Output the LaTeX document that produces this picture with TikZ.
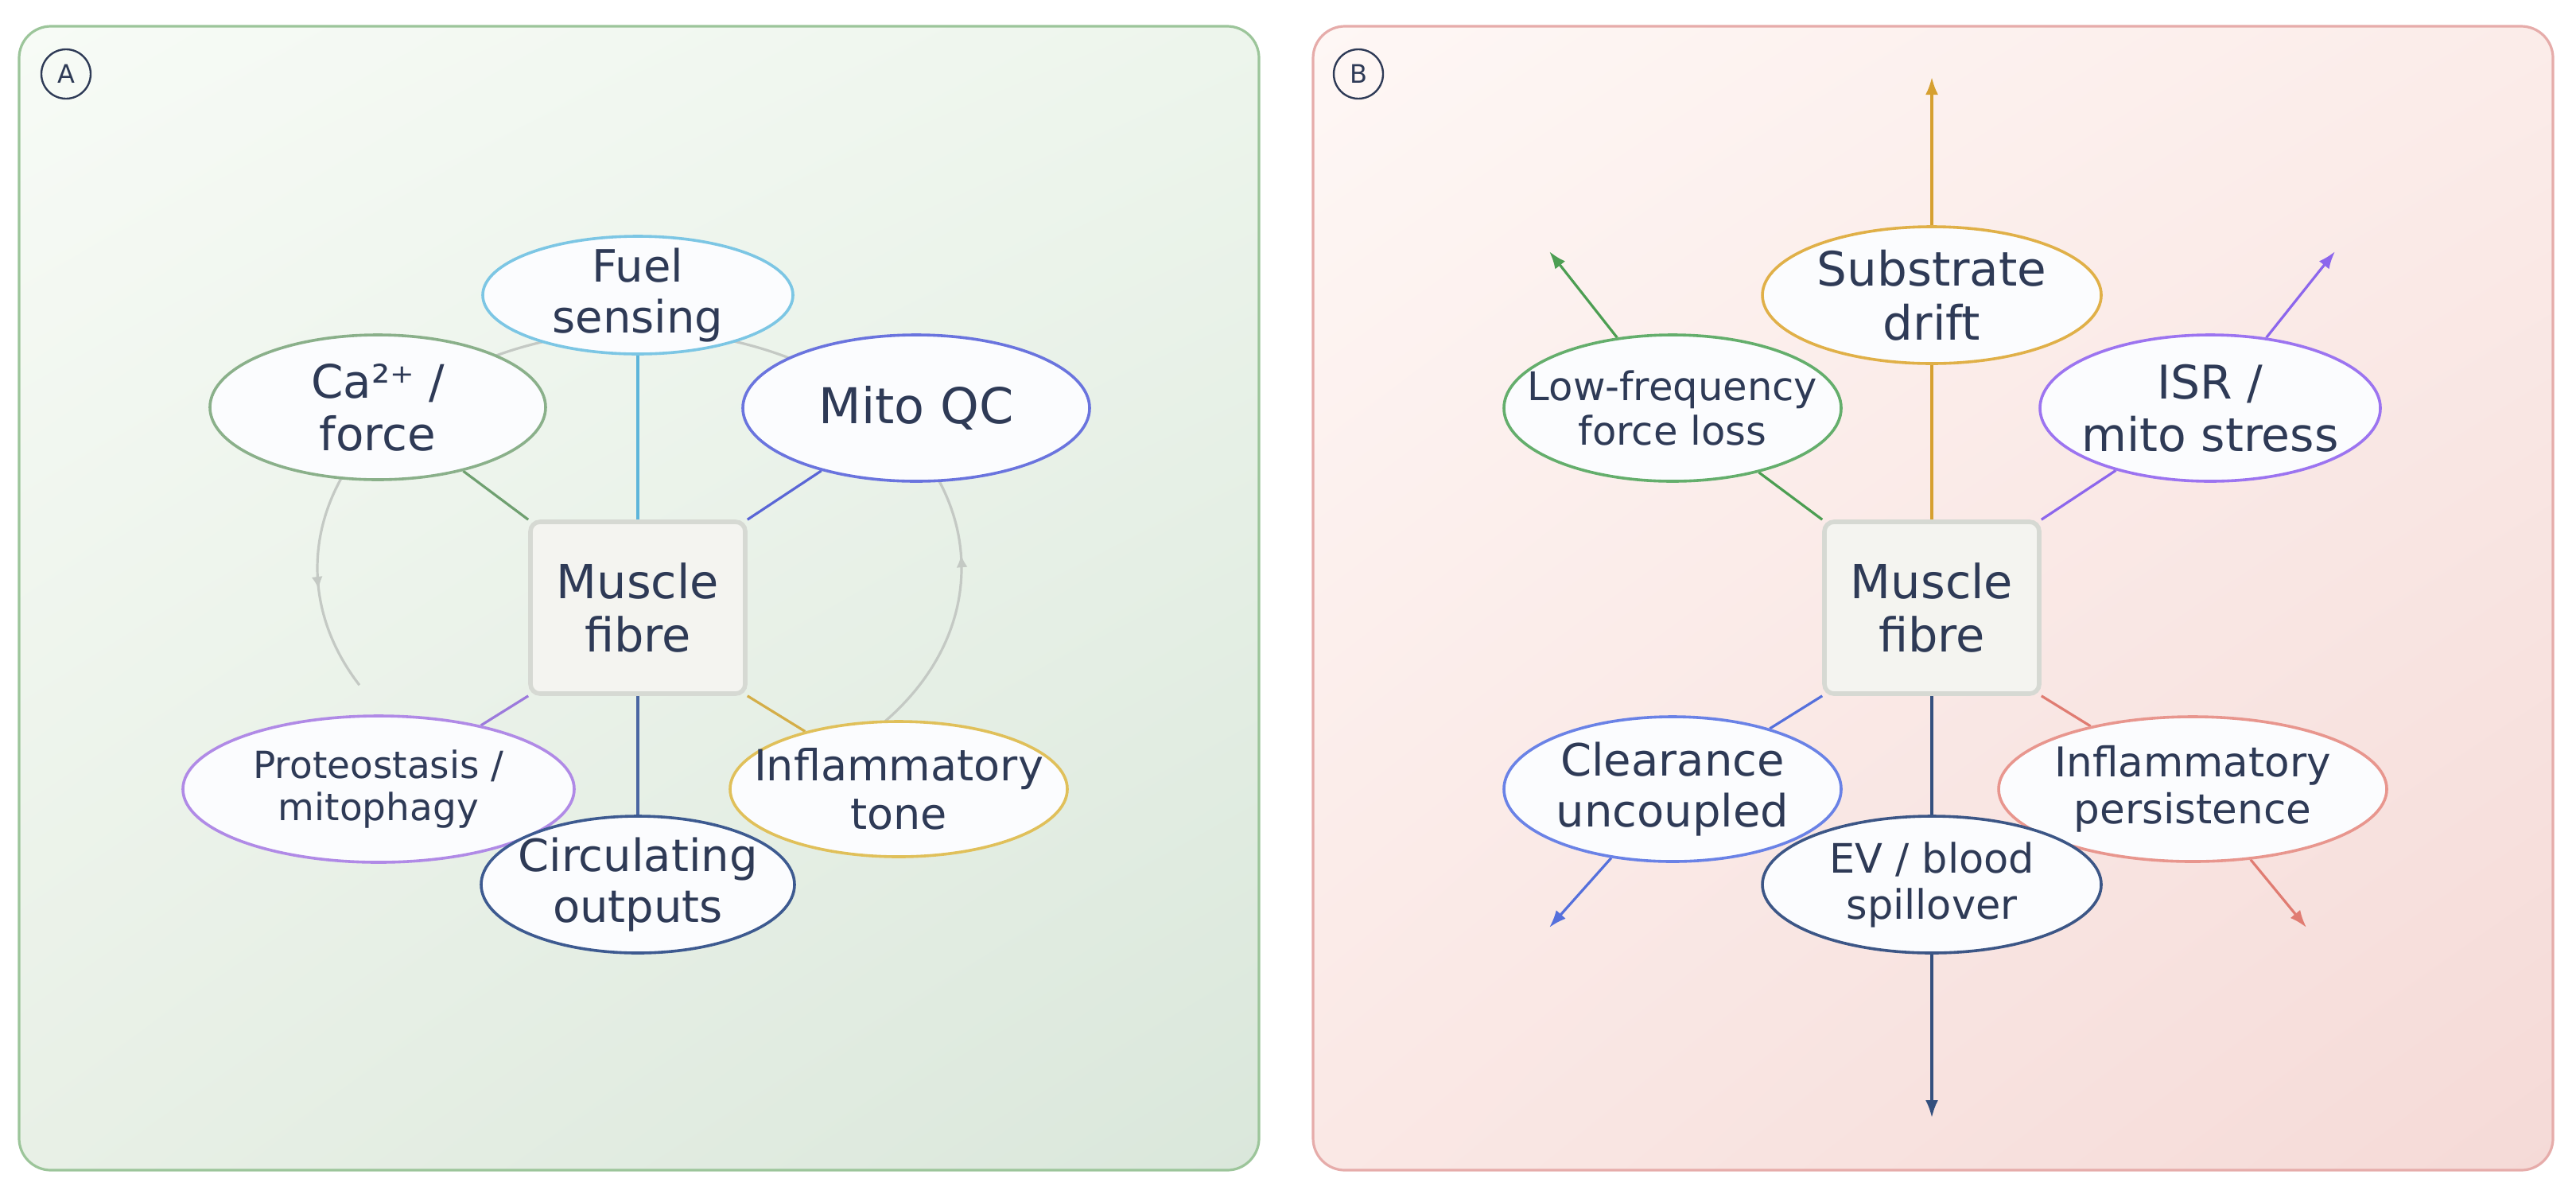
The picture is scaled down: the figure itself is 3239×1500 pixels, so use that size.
\documentclass[tikz,border=0pt]{standalone}
\usepackage{fontspec}
\setmainfont{DejaVu Sans}
\usetikzlibrary{shapes.geometric, arrows.meta, decorations.markings, calc, shadings}
\pgfdeclarelayer{bg}
\pgfdeclarelayer{lines}
\pgfsetlayers{bg,lines,main}
% text and neutral colours
\definecolor{txtc}{HTML}{2E3A56}
\definecolor{nodefill}{HTML}{FBFCFE}
\definecolor{boxfill}{HTML}{F4F4F0}
\definecolor{boxborder}{HTML}{D6D9D3}
\definecolor{ringcol}{HTML}{C4C9C4}
% panel colours
\definecolor{aTL}{HTML}{F7FBF6}
\definecolor{aTR}{HTML}{EDF5EC}
\definecolor{aBL}{HTML}{E8F0E6}
\definecolor{aBR}{HTML}{DAE7DB}
\definecolor{aBorder}{HTML}{9CC59A}
\definecolor{bTL}{HTML}{FEF7F5}
\definecolor{bTR}{HTML}{FBECE9}
\definecolor{bBL}{HTML}{FAE8E5}
\definecolor{bBR}{HTML}{F5DAD7}
\definecolor{bBorder}{HTML}{E6ACAA}
% node colours A
\definecolor{fuelc}{HTML}{7CC6E4}\definecolor{fuelL}{HTML}{5DB5DA}
\definecolor{cac}{HTML}{8AB08A}\definecolor{caL}{HTML}{6FA070}
\definecolor{mitoc}{HTML}{6A74DE}\definecolor{mitoL}{HTML}{5A66D6}
\definecolor{protc}{HTML}{B08AE6}\definecolor{protL}{HTML}{9C7ADC}
\definecolor{inflc}{HTML}{E0C05A}\definecolor{inflL}{HTML}{D4AE48}
\definecolor{circc}{HTML}{3D5A90}\definecolor{circL}{HTML}{4A66A2}
% node colours B
\definecolor{subsc}{HTML}{E0B048}\definecolor{subsL}{HTML}{D6A030}
\definecolor{lfc}{HTML}{64AE6C}\definecolor{lfL}{HTML}{4C9E52}
\definecolor{isrc}{HTML}{9C74F0}\definecolor{isrL}{HTML}{8C66EC}
\definecolor{clearc}{HTML}{6A82E6}\definecolor{clearL}{HTML}{5570DC}
\definecolor{inflBc}{HTML}{E8968E}\definecolor{inflBL}{HTML}{E07C72}
\definecolor{evc}{HTML}{3C5686}\definecolor{evL}{HTML}{34507E}
\begin{document}
\begin{tikzpicture}[x=0.25pt, y=-0.25pt,
  ell/.style={ellipse, draw, fill=nodefill, line width=0.9pt, inner sep=0pt},
  lbl/.style={align=center, text=txtc, inner sep=0pt},
  fibrebox/.style={rectangle, rounded corners=3pt, draw=boxborder, line width=1.4pt,
    fill=boxfill, align=center, text=txtc, inner sep=0pt,
    minimum width=67.5pt, minimum height=54pt,
    font=\fontsize{14.75}{16.8}\selectfont},
  panellabel/.style={circle, draw=txtc, line width=0.6pt, minimum size=15.5pt,
    inner sep=0pt, text=txtc, font=\fontsize{8}{9}\selectfont},
  conn/.style={line width=0.8pt},
  arr/.style={line width=0.8pt, -{Latex[length=5.5pt,width=4pt]}},
  ringst/.style={ringcol, line width=0.8pt}
]
\useasboundingbox (0,0) rectangle (3239,1500);

% ---------- panels ----------
\begin{pgfonlayer}{bg}
  \fill[white] (0,0) rectangle (3239,1500);
  \shade[rounded corners=10pt, upper left=aTL, upper right=aTR, lower left=aBL, lower right=aBR]
    (24,33) rectangle (1583,1471);
  \draw[aBorder, line width=0.8pt, rounded corners=10pt] (24,33) rectangle (1583,1471);
  \shade[rounded corners=10pt, upper left=bTL, upper right=bTR, lower left=bBL, lower right=bBR]
    (1651,33) rectangle (3210,1471);
  \draw[bBorder, line width=0.8pt, rounded corners=10pt] (1651,33) rectangle (3210,1471);
\end{pgfonlayer}

\node[panellabel] (labA) at (83,93) {A};
\node[panellabel] (labB) at (1708,93) {B};

% ---------- panel A nodes ----------
\node[fibrebox] (boxA) at (802,764) {Muscle\\fibre};
\node[ell, draw=fuelc, minimum width=97.5pt, minimum height=37pt] (fuel) at (802,371) {};
\node[lbl, font=\fontsize{14}{16}\selectfont] (fuelT) at (fuel) {Fuel\\sensing};
\node[ell, draw=cac, minimum width=105.5pt, minimum height=45.5pt] (ca) at (475,512) {};
\node[lbl, font=\fontsize{14.5}{16.5}\selectfont] (caT) at (ca) {Ca²⁺ /\\force};
\node[ell, draw=mitoc, minimum width=109pt, minimum height=46pt] (mito) at (1152,513) {};
\node[lbl, font=\fontsize{15.5}{17.7}\selectfont] (mitoT) at (mito) {Mito QC};
\node[ell, draw=protc, minimum width=123pt, minimum height=46pt] (prot) at (476,992) {};
\node[lbl, font=\fontsize{11.75}{13.4}\selectfont] (protT) at (prot) {Proteostasis /\\mitophagy};
\node[ell, draw=inflc, minimum width=106pt, minimum height=42.5pt] (inflA) at (1130,992) {};
\node[lbl, font=\fontsize{13.5}{15.4}\selectfont] (inflAT) at (inflA) {Inflammatory\\tone};
\node[ell, draw=circc, minimum width=98.5pt, minimum height=43pt] (circ) at (802,1112) {};
\node[lbl, font=\fontsize{14}{16}\selectfont] (circT) at (circ) {Circulating\\outputs};

% ---------- panel B nodes ----------
\node[fibrebox] (boxB) at (2429,764) {Muscle\\fibre};
\node[ell, draw=subsc, minimum width=106.5pt, minimum height=43pt] (subs) at (2429,371) {};
\node[lbl, font=\fontsize{14.9}{17}\selectfont] (subsT) at (subs) {Substrate\\drift};
\node[ell, draw=lfc, minimum width=106pt, minimum height=46pt] (lf) at (2103,513) {};
\node[lbl, font=\fontsize{12.4}{14.1}\selectfont] (lfT) at (lf) {Low-frequency\\force loss};
\node[ell, draw=isrc, minimum width=107pt, minimum height=46pt] (isr) at (2779,513) {};
\node[lbl, font=\fontsize{14.6}{16.6}\selectfont] (isrT) at (isr) {ISR /\\mito stress};
\node[ell, draw=clearc, minimum width=106pt, minimum height=45.5pt] (clear) at (2103,992) {};
\node[lbl, font=\fontsize{14}{16}\selectfont] (clearT) at (clear) {Clearance\\uncoupled};
\node[ell, draw=inflBc, minimum width=122pt, minimum height=45.5pt] (inflB) at (2757,992) {};
\node[lbl, font=\fontsize{12.9}{14.7}\selectfont] (inflBT) at (inflB) {Inflammatory\\persistence};
\node[ell, draw=evc, minimum width=106.5pt, minimum height=43pt] (ev) at (2429,1112) {};
\node[lbl, font=\fontsize{12.75}{14.5}\selectfont] (evT) at (ev) {EV / blood\\spillover};

% free arrow ends in panel B
\coordinate (tipS) at (2429,97);
\coordinate (tipE) at (2429,1405);
\coordinate (tipLF) at (1948,316);
\coordinate (tipISR) at (2936,316);
\coordinate (tipCL) at (1948,1166);
\coordinate (tipIP) at (2900,1166);
\coordinate (ringc) at (804,714);

% ---------- connectors ----------
\begin{pgfonlayer}{lines}
  % ring of panel A
  \draw[ringst, postaction={decorate}, decoration={markings,
      mark=at position 0.166 with {\arrow{Latex[length=4pt,width=3.5pt]}},
      mark=at position 0.912 with {\arrow{Latex[length=4pt,width=3.5pt]}}}]
    ([shift={(-42:101.25pt and 74.5pt)}]ringc) arc[start angle=-42, end angle=209.6, x radius=101.25pt, y radius=74.5pt];
  % panel A spokes
  \draw[conn, fuelL] (boxA) -- (fuel);
  \draw[conn, caL] (boxA.north west) -- (ca);
  \draw[conn, mitoL] (boxA.north east) -- (mito);
  \draw[conn, protL] (boxA.south west) -- (prot);
  \draw[conn, inflL] (boxA.south east) -- (inflA);
  \draw[conn, circL] (boxA) -- (circ);
  % panel B spokes and outward arrows
  \draw[arr, subsL] (boxB) -- (tipS);
  \draw[arr, evL] (boxB) -- (tipE);
  \draw[conn, lfL] (boxB.north west) -- (lf);
  \draw[arr, lfL] (lf) -- (tipLF);
  \draw[conn, isrL] (boxB.north east) -- (isr);
  \draw[arr, isrL] (isr) -- (tipISR);
  \draw[conn, clearL] (boxB.south west) -- (clear);
  \draw[arr, clearL] (clear) -- (tipCL);
  \draw[conn, inflBL] (boxB.south east) -- (inflB);
  \draw[arr, inflBL] (inflB) -- (tipIP);
\end{pgfonlayer}
\end{tikzpicture}
\end{document}
